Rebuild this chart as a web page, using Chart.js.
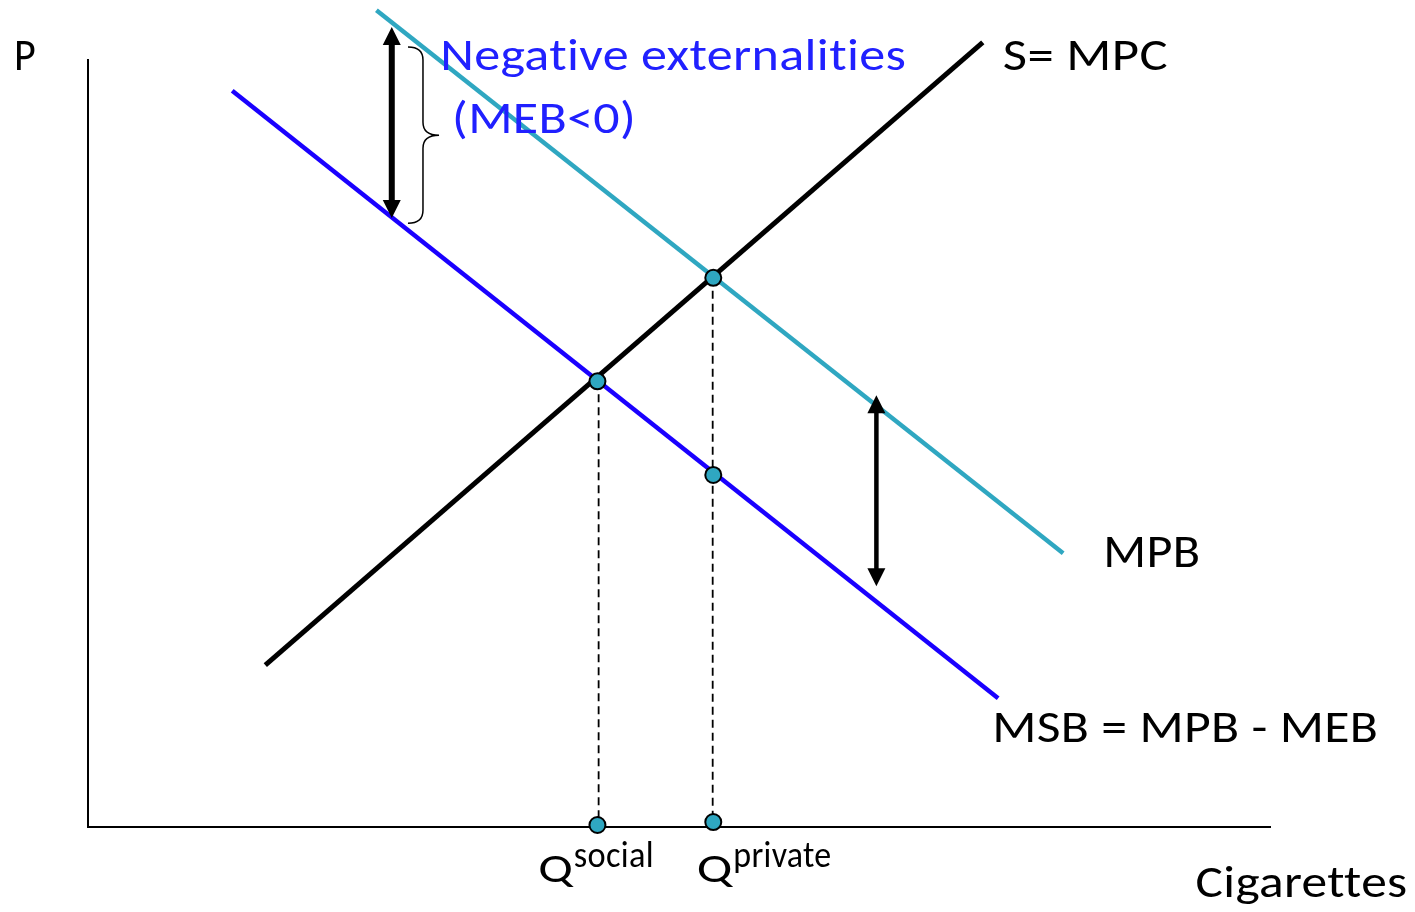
<!DOCTYPE html>
<html><head><meta charset="utf-8">
<script src="https://cdn.jsdelivr.net/npm/chart.js@4/dist/chart.umd.min.js"></script>
<style>html,body{margin:0;padding:0;background:#fff;overflow:hidden}#wrap{width:1415px;height:912px;position:relative}</style>
</head><body><div id="wrap"><canvas id="c" width="1415" height="912"></canvas></div>
<script>
// ---- data (Q on x 0..100, P on y 0..100) ----
const mpcCurve = [{x:15.0,y:21.1},{x:75.7,y:102.3}];
const mpbCurve = [{x:24.4,y:106.5},{x:82.5,y:35.7}];
const msbCurve = [{x:12.2,y:96.0},{x:77.0,y:16.8}];
const equilibriumPoints = [{x:52.9,y:71.6},{x:43.1,y:58.1},{x:52.9,y:45.9}];
const axisPoints = [{x:43.1,y:0.26},{x:52.9,y:0.65}];
const qSocial = 43.2, pSocial = 58.1;
const qPrivate = 52.85, pPrivate = 71.6;
const dropSocial = [{x:qSocial,y:pSocial},{x:qSocial,y:0}];
const dropPrivate = [{x:qPrivate,y:pPrivate},{x:qPrivate,y:0}];
const arrowLeft = {x:25.7, yTop:104.3, yBottom:79.4};
const arrowRight = {x:66.7, yTop:56.3, yBottom:31.4};
const braceShape = {x0:27.07, xm:28.34, xt:29.7, top:101.7, mid:90.2, bottom:78.7};
const labelTexts = ['P','S= MPC','Negative externalities','(MEB<0)','MPB','MSB = MPB - MEB','Cigarettes','Q','social','Q','private'];
const labelAnchors = [[-6.26,98.7],[77.4,98.7],[29.8,98.7],[30.8,90.5],[85.9,33.9],[76.5,11.1],[93.7,-9.1],[38.1,-7.2],[41.1,-5.2],[51.5,-7.2],[54.6,-5.2]];

// ---- styles ----
const FONT = 'Carlito, Lato, "Open Sans", sans-serif';
const labelStyle = [
  {size:46,w:22,c:'#000'},{size:46,w:165,c:'#000'},{size:46,w:466,c:'#2020ff'},{size:46,w:184,c:'#2020ff'},
  {size:47,w:97,c:'#000'},{size:45,w:386,c:'#000'},{size:45,w:212,c:'#000'},
  {size:42,w:35,c:'#000'},{size:37,w:80,c:'#000'},{size:42,w:36,c:'#000'},{size:37,w:98,c:'#000'}
];
const TEAL = '#2fa7c1', BLUE = '#1a00ff';

const annotations = {
  id:'annotations',
  afterDatasetsDraw(chart){
    const ctx = chart.ctx, xs = chart.scales.x, ys = chart.scales.y;
    const px = v => xs.getPixelForValue(v), py = v => ys.getPixelForValue(v);
    function dArrow(a, shaft, headW, headL){
      const x = px(a.x), t = py(a.yTop), b = py(a.yBottom);
      ctx.save(); ctx.strokeStyle='#000'; ctx.fillStyle='#000'; ctx.lineWidth=shaft;
      ctx.beginPath(); ctx.moveTo(x,t+headL-2); ctx.lineTo(x,b-headL+2); ctx.stroke();
      ctx.beginPath(); ctx.moveTo(x,t); ctx.lineTo(x-headW/2,t+headL); ctx.lineTo(x+headW/2,t+headL); ctx.closePath(); ctx.fill();
      ctx.beginPath(); ctx.moveTo(x,b); ctx.lineTo(x-headW/2,b-headL); ctx.lineTo(x+headW/2,b-headL); ctx.closePath(); ctx.fill();
      ctx.restore();
    }
    dArrow(arrowLeft, 6, 18, 18);
    dArrow(arrowRight, 4.5, 18, 18);
    // brace
    const b = braceShape, r = 13;
    const x0=px(b.x0), xm=px(b.xm), xt=px(b.xt), t=py(b.top), m=py(b.mid), bo=py(b.bottom);
    ctx.save(); ctx.strokeStyle='#000'; ctx.lineWidth=1.5;
    ctx.beginPath(); ctx.moveTo(x0,t);
    ctx.quadraticCurveTo(xm,t,xm,t+r); ctx.lineTo(xm,m-r);
    ctx.quadraticCurveTo(xm,m,xt,m); ctx.quadraticCurveTo(xm,m,xm,m+r);
    ctx.lineTo(xm,bo-r); ctx.quadraticCurveTo(xm,bo,x0,bo); ctx.stroke(); ctx.restore();
    // labels
    labelTexts.forEach((txt,i)=>{
      const st = labelStyle[i], [ax,ay] = labelAnchors[i];
      ctx.save(); ctx.font = st.size+'px '+FONT; ctx.fillStyle = st.c;
      if ('textRendering' in ctx) ctx.textRendering = 'optimizeSpeed';
      if ('letterSpacing' in ctx) ctx.letterSpacing = '0.3px';
      ctx.textBaseline='alphabetic'; ctx.textAlign='left';
      const mw = ctx.measureText(txt).width;
      const sx = st.w / mw;
      ctx.translate(px(ax), py(ay)); ctx.scale(sx,1);
      ctx.fillText(txt,0,0); ctx.restore();
    });
  }
};

const lineDs = (data,color,w,order)=>({data,showLine:true,borderColor:color,borderWidth:w,pointRadius:0,pointHoverRadius:0,clip:false,order,fill:false,tension:0});
const dashDs = (data)=>({data,showLine:true,borderColor:'#000',borderWidth:1.8,borderDash:[8,5],pointRadius:0,pointHoverRadius:0,clip:false,order:6});
const dotDs = (data)=>({data,showLine:false,pointRadius:8,pointHoverRadius:8,pointBackgroundColor:TEAL,pointBorderColor:'#000',pointBorderWidth:2,clip:false,order:0});

new Chart(document.getElementById('c'),{
  type:'scatter',
  data:{datasets:[
    dashDs(dropSocial), dashDs(dropPrivate),
    lineDs(mpbCurve,TEAL,4.5,3), lineDs(msbCurve,BLUE,4.5,2), lineDs(mpcCurve,'#000',5,1),
    dotDs(equilibriumPoints), dotDs(axisPoints)
  ]},
  options:{
    responsive:false, animation:false, devicePixelRatio:1,
    layout:{padding:{left:88,right:145,top:60,bottom:85}},
    plugins:{legend:{display:false},tooltip:{enabled:false}},
    events:[],
    scales:{
      x:{type:'linear',min:0,max:100,grid:{display:false,drawTicks:false},ticks:{display:false},border:{display:true,color:'#000',width:2}},
      y:{type:'linear',min:0,max:100,grid:{display:false,drawTicks:false},ticks:{display:false},border:{display:true,color:'#000',width:2}}
    }
  },
  plugins:[annotations]
});
</script></body></html>
